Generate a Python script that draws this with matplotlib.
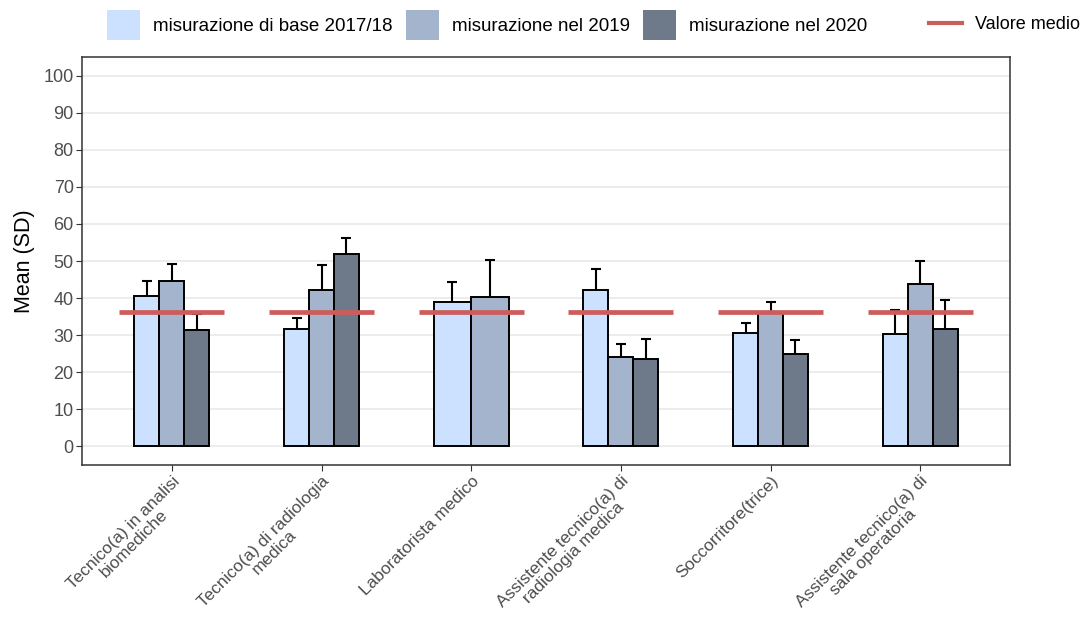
import numpy as np
import matplotlib
matplotlib.use("Agg")
from matplotlib import pyplot as plt
from matplotlib.patches import Patch
from matplotlib.lines import Line2D

plt.rcParams["font.family"] = ["Liberation Sans", "DejaVu Sans"]

categories = [
    "Tecnico(a) in analisi\nbiomediche",
    "Tecnico(a) di radiologia\nmedica",
    "Laboratorista medico",
    "Assistente tecnico(a) di\nradiologia medica",
    "Soccorritore(trice)",
    "Assistente tecnico(a) di\nsala operatoria",
]
series = ["misurazione di base 2017/18", "misurazione nel 2019", "misurazione nel 2020"]
means = [
    [40.5, 31.7, 39.0, 42.2, 30.7, 30.4],
    [44.6, 42.2, 40.2, 24.2, 35.9, 43.7],
    [31.3, 51.8, np.nan, 23.6, 24.9, 31.8],
]
sds = [
    [4.1, 3.0, 5.4, 5.6, 2.5, 6.3],
    [4.7, 6.6, 10.2, 3.4, 3.1, 6.3],
    [4.4, 4.5, np.nan, 5.5, 3.9, 7.8],
]
overall_mean = 36.3
colors = ["#CCE1FF", "#A3B4CC", "#6E7A8A"]
line_color = "#CD5C5C"

fig = plt.figure(figsize=(10.85, 6.2), dpi=100)
ax = fig.add_axes([0.0756, 0.25, 0.8553, 0.658])

dodge = 0.5
x = np.arange(1, len(categories) + 1)
for j in range(len(categories)):
    present = [s for s in range(len(series)) if not np.isnan(means[s][j])]
    w = dodge / len(present)
    for k, s in enumerate(present):
        xc = x[j] - dodge / 2 + w * (k + 0.5)
        ax.errorbar(xc, means[s][j], yerr=sds[s][j], color="black", lw=1.5,
                    capsize=3.7, capthick=1.5, zorder=2)
        ax.bar(xc, means[s][j], width=w, color=colors[s], edgecolor="black",
               linewidth=1.4, zorder=3)
    ax.hlines(overall_mean, x[j] - 0.35, x[j] + 0.35, color=line_color, lw=3.4, zorder=4)

ax.set_xlim(0.4, 6.6)
ax.set_ylim(-5, 105)
ax.set_yticks(np.arange(0, 101, 10))
ax.set_xticks(x)
ax.set_xticklabels(categories, rotation=45, ha="right", rotation_mode="anchor",
                   multialignment="center", fontsize=12.4, linespacing=1.0,
                   color="#4D4D4D")
ax.tick_params(axis="y", labelsize=13, labelcolor="#4D4D4D", color="#333333",
               length=4, pad=2)
ax.tick_params(axis="x", color="#333333", length=4, pad=2)
ax.yaxis.grid(True, color="#EBEBEB", lw=1.3)
ax.set_axisbelow(True)
for sp in ax.spines.values():
    sp.set_color("#333333")
    sp.set_linewidth(1.1)
ax.set_ylabel("Mean (SD)", fontsize=15.5, labelpad=6)

handles = [Patch(facecolor=c, edgecolor="none") for c in colors]
fig.legend(handles, series, loc="center", bbox_to_anchor=(0.449, 0.96), ncol=3,
           frameon=False, fontsize=13.5, handlelength=1.76, handleheight=2.13,
           handletextpad=0.69, columnspacing=0.69)
fig.legend([Line2D([0], [0], color=line_color, lw=3)], ["Valore medio"], loc="center",
           bbox_to_anchor=(0.926, 0.96), frameon=False, fontsize=13,
           handlelength=1.83, handletextpad=0.72)

fig.savefig("out.png", dpi=100)
